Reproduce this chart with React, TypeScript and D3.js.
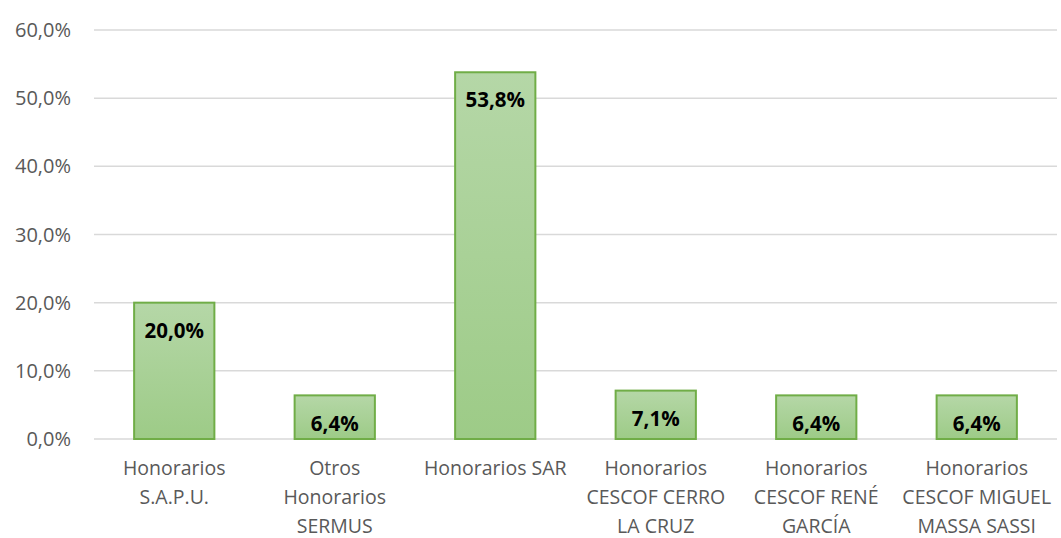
import React from "react";
import * as d3 from "d3";

const categories: string[][] = [
  ["Honorarios", "S.A.P.U."],
  ["Otros", "Honorarios", "SERMUS"],
  ["Honorarios SAR"],
  ["Honorarios", "CESCOF CERRO", "LA CRUZ"],
  ["Honorarios", "CESCOF RENÉ", "GARCÍA"],
  ["Honorarios", "CESCOF MIGUEL", "MASSA SASSI"],
];
const values = [20.0, 6.4, 53.8, 7.1, 6.4, 6.4];
const yTicks = [0, 10, 20, 30, 40, 50, 60];

const fmt = (v: number, d = 1) => v.toFixed(d).replace(".", ",") + "%";

const App = () => {
  const width = 1061;
  const height = 538;
  const margin = { top: 30, right: 4, bottom: 99, left: 94 };

  const x = d3
    .scaleBand<number>()
    .domain(d3.range(values.length))
    .range([margin.left, width - margin.right])
    .paddingInner(0.5)
    .paddingOuter(0.25);
  const y = d3
    .scaleLinear()
    .domain([0, 60])
    .range([height - margin.bottom, margin.top]);

  const font = "'Open Sans', 'Noto Sans', sans-serif";

  return (
    <svg
      width={width}
      height={height}
      style={{ position: "absolute", left: 0, top: 0, background: "#fff" }}
    >
      <defs>
        <linearGradient id="barFill" x1="0" y1="0" x2="0" y2="1">
          <stop offset="0%" stopColor="#b5d7a7" />
          <stop offset="100%" stopColor="#9dcb87" />
        </linearGradient>
      </defs>

      {/* gridlines + y labels */}
      {yTicks.map((t) => (
        <g key={t}>
          <line
            x1={margin.left}
            x2={width - margin.right}
            y1={y(t)}
            y2={y(t)}
            stroke="#d9d9d9"
            strokeWidth={1.5}
          />
          <text
            x={margin.left - 23}
            y={y(t)}
            dy="0.35em"
            textAnchor="end"
            fill="#595959"
            fontSize={20}
            fontFamily={font}
          >
            {fmt(t)}
          </text>
        </g>
      ))}

      {/* bars */}
      {values.map((v, i) => (
        <g key={i}>
          <rect
            x={x(i)!}
            y={y(v)}
            width={x.bandwidth()}
            height={y(0) - y(v)}
            fill="url(#barFill)"
            stroke="#70ad47"
            strokeWidth={2}
          />
          <text
            x={x(i)! + x.bandwidth() / 2}
            y={y(v) + 28}
            dy="0.35em"
            textAnchor="middle"
            fontWeight="bold"
            fontSize={20.5}
            fill="#000"
            fontFamily={font}
          >
            {fmt(v)}
          </text>
        </g>
      ))}

      {/* category labels */}
      {categories.map((lines, i) => (
        <text
          key={i}
          x={x(i)! + x.bandwidth() / 2}
          textAnchor="middle"
          fill="#595959"
          fontSize={19.5}
          fontFamily={font}
        >
          {lines.map((l, j) => (
            <tspan key={j} x={x(i)! + x.bandwidth() / 2} y={468 + j * 29} dy="0.35em">
              {l}
            </tspan>
          ))}
        </text>
      ))}
    </svg>
  );
};

export default App;
